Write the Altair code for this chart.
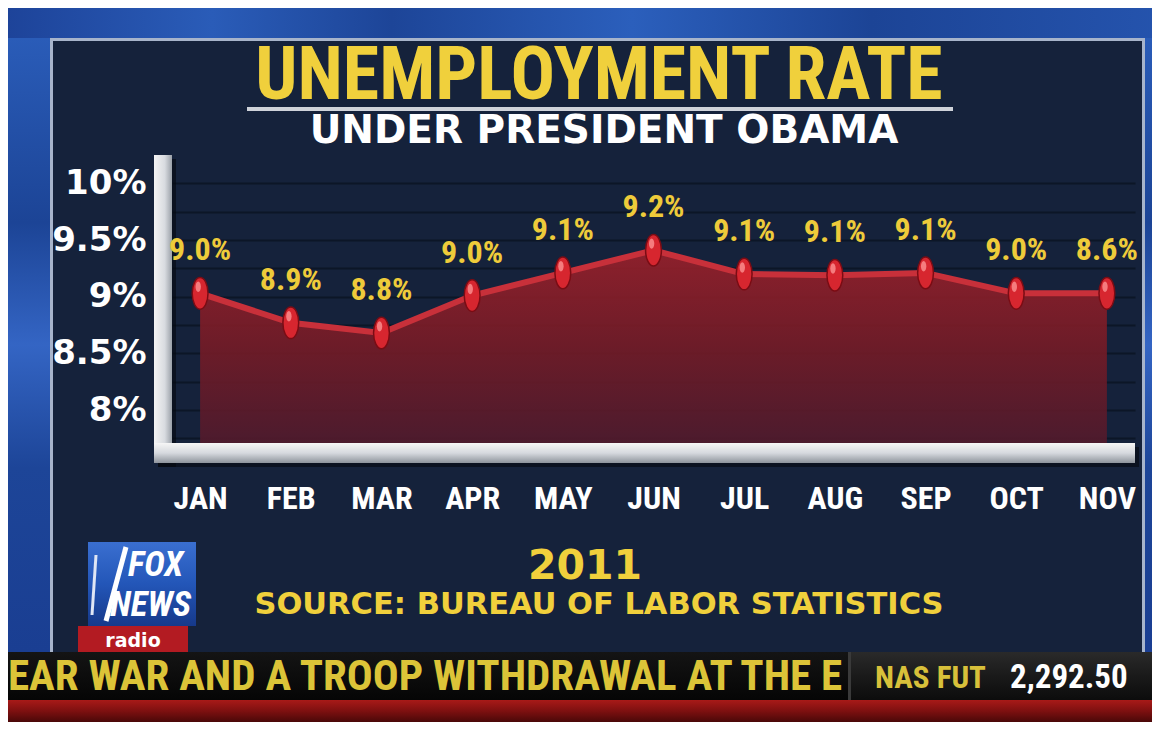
import altair as alt
import pandas as pd

# ---------------- data read from the broadcast graphic ----------------
MONTHS = ["JAN", "FEB", "MAR", "APR", "MAY", "JUN", "JUL", "AUG", "SEP", "OCT", "NOV"]
RATE = [9.0, 8.9, 8.8, 9.0, 9.1, 9.2, 9.1, 9.1, 9.1, 9.0, 8.6]
# heights at which the graphic actually drew each point (read against its own y axis)
PLOTTED = [9.03, 8.77, 8.68, 9.01, 9.21, 9.41, 9.20, 9.19, 9.21, 9.03, 9.03]
Y_LABELS = [8.0, 8.5, 9.0, 9.5, 10.0]
GRID_LEVELS = [7.75, 8.0, 8.25, 8.5, 8.75, 9.0, 9.25, 9.5, 9.75, 10.0]
Y_MIN, Y_MAX = 7.71, 10.25

TITLE = "UNEMPLOYMENT RATE"
SUBTITLE = "UNDER PRESIDENT OBAMA"
YEAR = "2011"
SOURCE = "SOURCE: BUREAU OF LABOR STATISTICS"
TICKER = "EAR WAR AND A TROOP WITHDRAWAL AT THE E"
TICKER_NAME = "NAS FUT"
TICKER_VALUE = "2,292.50"

df = pd.DataFrame({
    "month": MONTHS,
    "level": PLOTTED,
    "label": [f"{v:.1f}%" for v in RATE],
})

NARROW = "Roboto Condensed, Open Sans Condensed, DejaVu Sans Condensed, sans-serif"
WIDE = "DejaVu Sans, Verdana, sans-serif"
YELLOW = "#f0d03c"

W, H = 963, 288
ONE = alt.Data(values=[{"k": 0}])


def grad(stops, vertical=True):
    return alt.Gradient(
        gradient="linear",
        stops=[alt.GradientStop(offset=o, color=c) for o, c in stops],
        x1=0, y1=0, x2=0 if vertical else 1, y2=1 if vertical else 0,
    )


def box(x, x2, y, y2, color, **kw):
    return alt.Chart(ONE).mark_rect(color=color, **kw).encode(
        x=alt.value(x), x2=alt.value(x2), y=alt.value(y), y2=alt.value(y2))


def txt(text, x, y, **kw):
    return alt.Chart(ONE).mark_text(text=text, **kw).encode(x=alt.value(x), y=alt.value(y))


BLUE_H = grad([(0, "#1b3f94"), (0.2, "#2a5cb8"), (0.35, "#1d4598"), (0.55, "#2b5fbc"),
               (0.75, "#1c4496"), (1, "#2554ae")], vertical=False)
BLUE_V = grad([(0, "#2a5cb8"), (0.3, "#1c4496"), (0.5, "#3465c4"), (0.7, "#1d4598"), (1, "#1a3e92")])

decor = [
    # outer blue studio background
    box(-200, 1000, -200, -117, BLUE_H),
    box(-200, -122, -117, 497, BLUE_V),
    box(973, 1000, -117, 497, BLUE_V),
    # panel border
    box(-122, 973, -117, -114, "#a7b4cb"),
    box(-122, -119, -117, 497, "#a7b4cb"),
    box(970, 973, -117, 497, "#a7b4cb"),
    # title underline
    box(75, 781, -48, -44, "#cfd3da"),
    txt(TITLE, 427, -56, fill=YELLOW, font=NARROW, fontWeight="bold", fontSize=74,
        align="center", baseline="alphabetic"),
    txt(SUBTITLE, 432, -12, fill="#ffffff", font=WIDE, fontWeight="bold", fontSize=39,
        align="center", baseline="alphabetic"),
]

frame = [
    box(-14, 4, 4, 312, "#05080f", opacity=0.6),
    box(-14, 967, 292, 312, "#05080f", opacity=0.6),
    box(-18, 0, 0, 308, grad([(0, "#f4f4f4"), (0.6, "#d8dbe0"), (1, "#9aa0a8")], vertical=False)),
    box(-18, 963, 288, 308, grad([(0, "#f6f6f6"), (0.5, "#d6d9de"), (1, "#8e949c")])),
]

x_enc = alt.X(
    "month:O", sort=MONTHS,
    scale=alt.Scale(type="point", range=[0, W], padding=0.31),
    axis=alt.Axis(title=None, ticks=False, tickSize=0, domain=False, grid=False, labelAngle=0,
                  labelFont=NARROW, labelFontWeight="bold", labelFontSize=32, labelColor="#ffffff",
                  labelPadding=40, labelBaseline="top"),
)
y_enc = alt.Y(
    "level:Q",
    scale=alt.Scale(domain=[Y_MIN, Y_MAX], zero=False, nice=False),
    axis=alt.Axis(title=None, values=GRID_LEVELS, ticks=False, tickSize=0, domain=False,
                  grid=True, gridColor="#0a1322", gridWidth=2, gridOpacity=0.75,
                  labelExpr="datum.value * 2 == floor(datum.value * 2) ? datum.value + '%' : ''",
                  labelFont=WIDE, labelFontWeight="bold", labelFontSize=34, labelColor="#ffffff",
                  labelPadding=26, labelBaseline="middle", labelOverlap=False, labelFlush=False),
)

base = alt.Chart(df)
area = base.mark_area(
    color=grad([(0, "#9a202a"), (0.5, "#761b26"), (1, "#521a2c")]), opacity=0.9
).encode(x=x_enc, y=y_enc, y2=alt.datum(Y_MIN))
line = base.mark_line(color="#c8303a", strokeWidth=6).encode(x=x_enc, y=y_enc)
ELLIPSE = "M0,-1A0.5,1,0,1,1,0,1A0.5,1,0,1,1,0,-1Z"
HILITE = "M-0.12,-0.75A0.17,0.33,0,1,1,-0.12,-0.09A0.17,0.33,0,1,1,-0.12,-0.75Z"
pts = base.mark_point(shape=ELLIPSE, size=1000, filled=True, fill="#d7262f",
                      stroke="#7a0c14", strokeWidth=1.5, opacity=1).encode(x=x_enc, y=y_enc)
hil = base.mark_point(shape=HILITE, size=1000, filled=True, fill="#ff9a9a",
                      opacity=0.75, strokeWidth=0).encode(x=x_enc, y=y_enc)
lab = base.mark_text(fill="#eecb3a", font=NARROW, fontWeight="bold", fontSize=32, dy=-43,
                     align="center", baseline="middle").encode(x=x_enc, y=y_enc, text="label:N")

bottom = [
    txt(YEAR, 413, 424, fill=YELLOW, font=WIDE, fontWeight="bold", fontSize=41,
        align="center", baseline="alphabetic"),
    txt(SOURCE, 427, 459, fill=YELLOW, font=WIDE, fontWeight="bold", fontSize=30.5,
        align="center", baseline="alphabetic"),
    # logo
    box(-84, 24, 387, 471, grad([(0, "#3a6fd0"), (0.5, "#2356b8"), (1, "#16398a")])),
    alt.Chart(ONE).mark_rule(color="#ffffff", strokeWidth=5).encode(
        x=alt.value(-66), x2=alt.value(-46), y=alt.value(466), y2=alt.value(392)),
    alt.Chart(ONE).mark_rule(color="#dfe6f5", strokeWidth=3).encode(
        x=alt.value(-80), x2=alt.value(-76), y=alt.value(460), y2=alt.value(400)),
    txt("FOX", -44, 421, fill="#ffffff", font=NARROW, fontWeight="bold", fontStyle="italic",
        fontSize=35, align="left", baseline="alphabetic"),
    txt("NEWS", -62, 461, fill="#ffffff", font=NARROW, fontWeight="bold", fontStyle="italic",
        fontSize=35, align="left", baseline="alphabetic"),
    box(-94, 16, 471, 497, "#b31b22"),
    txt("radio", -39, 492, fill="#ffffff", font=WIDE, fontWeight="bold", fontSize=19,
        align="center", baseline="alphabetic"),
    # ticker
    box(-200, 1000, 497, 545, grad([(0, "#141414"), (1, "#050505")])),
    txt(TICKER, -164, 535, fill="#dcc438", font=NARROW, fontWeight="bold", fontSize=43,
        align="left", baseline="alphabetic"),
    box(676, 1000, 497, 545, grad([(0, "#2a2a2a"), (0.5, "#1a1a1a"), (1, "#0c0c0c")])),
    box(676, 679, 497, 545, "#3a3a3a"),
    txt(TICKER_NAME, 703, 533, fill="#d8c03a", font=NARROW, fontWeight="bold", fontSize=31,
        align="left", baseline="alphabetic"),
    txt(TICKER_VALUE, 838, 533, fill="#ffffff", font=NARROW, fontWeight="bold", fontSize=33,
        align="left", baseline="alphabetic"),
    box(-200, 1000, 545, 567, grad([(0, "#a81a18"), (0.5, "#7e1010"), (1, "#4a0808")])),
    box(-200, 1000, 567, 600, "#120404"),
]

chart = alt.layer(
    *decor, *frame, area, line, pts, hil, lab, *bottom
).properties(
    width=W, height=H,
    autosize=alt.AutoSizeParams(type="none"),
    padding={"left": 164, "top": 147, "right": 17, "bottom": 279},
    background="#15223b",
).configure_view(stroke=None)

chart.save("out.html", embed_options={"renderer": "svg", "actions": False})
